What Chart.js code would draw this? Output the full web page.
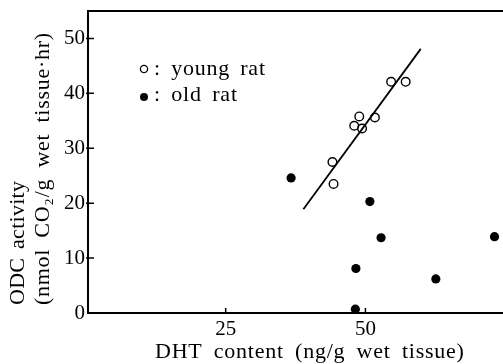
<!DOCTYPE html>
<html>
<head>
<meta charset="utf-8">
<script src="https://cdn.jsdelivr.net/npm/chart.js@4"></script>
<style>
  html, body { margin: 0; padding: 0; background: #fff; }
</style>
</head>
<body>
<canvas id="odc-chart" width="503" height="364"></canvas>
<script>
// Data
const youngX = [54.6, 57.2, 48.9, 51.7, 48.0, 49.4, 44.1, 44.3];
const youngY = [42.1, 42.1, 35.8, 35.6, 34.1, 33.6, 27.5, 23.5];
const oldX = [36.7, 50.8, 52.8, 73.1, 48.3, 62.6, 48.2];
const oldY = [24.6, 20.3, 13.7, 13.9, 8.1, 6.2, 0.7];
const fitX = [38.9, 59.9];
const fitY = [18.9, 48.1];

const xTicks = [25, 50];
const yTicks = [0, 10, 20, 30, 40, 50];

const xTitle = "DHT content (ng/g wet tissue)";
const yTitle = ["ODC activity", "(nmol CO\u2082/g wet tissue\u00b7hr)"];
const legendLabels = [": young rat", ": old rat"];

const SERIF = "'Liberation Serif', 'DejaVu Serif', serif";

const toPoints = (xs, ys) => xs.map((x, i) => ({ x: x, y: ys[i] }));

// draw text stretched to a given width (the original uses loose typesetting)
function spacedText(ctx, text, width, wordGap) {
  ctx.letterSpacing = "0px";
  ctx.wordSpacing = (wordGap || 0) + "px";
  const w = ctx.measureText(text).width;
  const extra = (width - w) / Math.max(1, text.length - 1);
  ctx.letterSpacing = extra.toFixed(2) + "px";
  ctx.fillText(text, 0, 0);
  ctx.letterSpacing = "0px";
  ctx.wordSpacing = "0px";
}

const framePlugin = {
  id: "frame",
  afterDraw(chart) {
    const { ctx, chartArea, scales } = chart;
    ctx.save();
    ctx.strokeStyle = "#000";
    ctx.fillStyle = "#000";

    // top border and the bottom axis run on to the edge of the picture
    ctx.lineWidth = 2;
    ctx.beginPath();
    ctx.moveTo(chartArea.left, chartArea.top);
    ctx.lineTo(chart.width, chartArea.top);
    ctx.moveTo(chartArea.right, chartArea.bottom);
    ctx.lineTo(chart.width, chartArea.bottom);
    ctx.stroke();

    // inward tick marks
    ctx.lineWidth = 1.5;
    ctx.beginPath();
    yTicks.forEach((v) => {
      const y = scales.y.getPixelForValue(v);
      if (v === 0) return;
      ctx.moveTo(chartArea.left - 2, y);
      ctx.lineTo(chartArea.left + 6, y);
    });
    xTicks.forEach((v) => {
      const x = scales.x.getPixelForValue(v);
      ctx.moveTo(x, chartArea.bottom);
      ctx.lineTo(x, chartArea.bottom - 5);
    });
    ctx.stroke();

    // legend
    ctx.lineWidth = 1.3;
    ctx.beginPath();
    ctx.arc(144, 69, 3.6, 0, Math.PI * 2);
    ctx.stroke();
    ctx.beginPath();
    ctx.arc(144, 97, 4, 0, Math.PI * 2);
    ctx.fill();

    ctx.font = "22px " + SERIF;
    ctx.textBaseline = "alphabetic";
    ctx.textAlign = "left";
    ctx.save();
    ctx.translate(154, 75);
    spacedText(ctx, legendLabels[0], 111, 4);
    ctx.restore();
    ctx.save();
    ctx.translate(154, 101);
    spacedText(ctx, legendLabels[1], 83, 4);
    ctx.restore();

    // x axis title
    ctx.save();
    ctx.translate(155, 358);
    spacedText(ctx, xTitle, 309, 5);
    ctx.restore();

    // y axis title (two lines, bottom aligned)
    ctx.textBaseline = "middle";
    ctx.save();
    ctx.translate(18, 305);
    ctx.rotate(-Math.PI / 2);
    spacedText(ctx, yTitle[0], 124, 3);
    ctx.restore();
    ctx.save();
    ctx.translate(43, 305);
    ctx.rotate(-Math.PI / 2);
    spacedText(ctx, yTitle[1], 272, 5);
    ctx.restore();

    ctx.restore();
  },
};

const ctx = document.getElementById("odc-chart").getContext("2d");
const odcChart = new Chart(ctx, {
  type: "scatter",
  data: {
    datasets: [
      {
        label: "young rat",
        data: toPoints(youngX, youngY),
        pointStyle: "circle",
        pointRadius: 4.3,
        borderWidth: 1.4,
        borderColor: "#000",
        backgroundColor: "rgba(0,0,0,0)",
      },
      {
        label: "old rat",
        data: toPoints(oldX, oldY),
        pointStyle: "circle",
        pointRadius: 4.6,
        borderWidth: 0,
        borderColor: "#000",
        backgroundColor: "#000",
      },
      {
        type: "line",
        label: "fit",
        data: toPoints(fitX, fitY),
        showLine: true,
        pointRadius: 0,
        borderColor: "#000",
        borderWidth: 1.8,
        fill: false,
      },
    ],
  },
  options: {
    responsive: false,
    animation: false,
    devicePixelRatio: 1,
    layout: { padding: { top: 11, right: 0, left: 0, bottom: 0 } },
    plugins: { legend: { display: false }, tooltip: { enabled: false } },
    elements: { point: { hoverRadius: 4 } },
    clip: false,
    scales: {
      x: {
        type: "linear",
        min: 0.36,
        max: 73.6,
        afterBuildTicks: (s) => { s.ticks = xTicks.map((v) => ({ value: v })); },
        afterFit: (s) => { s.height = 51; s.paddingLeft = 0; s.paddingRight = 0; },
        grid: { display: false, drawTicks: false },
        border: { display: true, color: "#000", width: 2 },
        ticks: { color: "#000", padding: 4, font: { family: SERIF, size: 21 } },
      },
      y: {
        type: "linear",
        min: 0,
        max: 55,
        afterBuildTicks: (s) => { s.ticks = yTicks.map((v) => ({ value: v })); },
        afterFit: (s) => { s.width = 88; s.paddingTop = 0; s.paddingBottom = 0; },
        grid: { display: false, drawTicks: false },
        border: { display: true, color: "#000", width: 2 },
        ticks: { color: "#000", padding: 3, font: { family: SERIF, size: 21 } },
      },
    },
  },
  plugins: [framePlugin],
});
</script>
</body>
</html>
